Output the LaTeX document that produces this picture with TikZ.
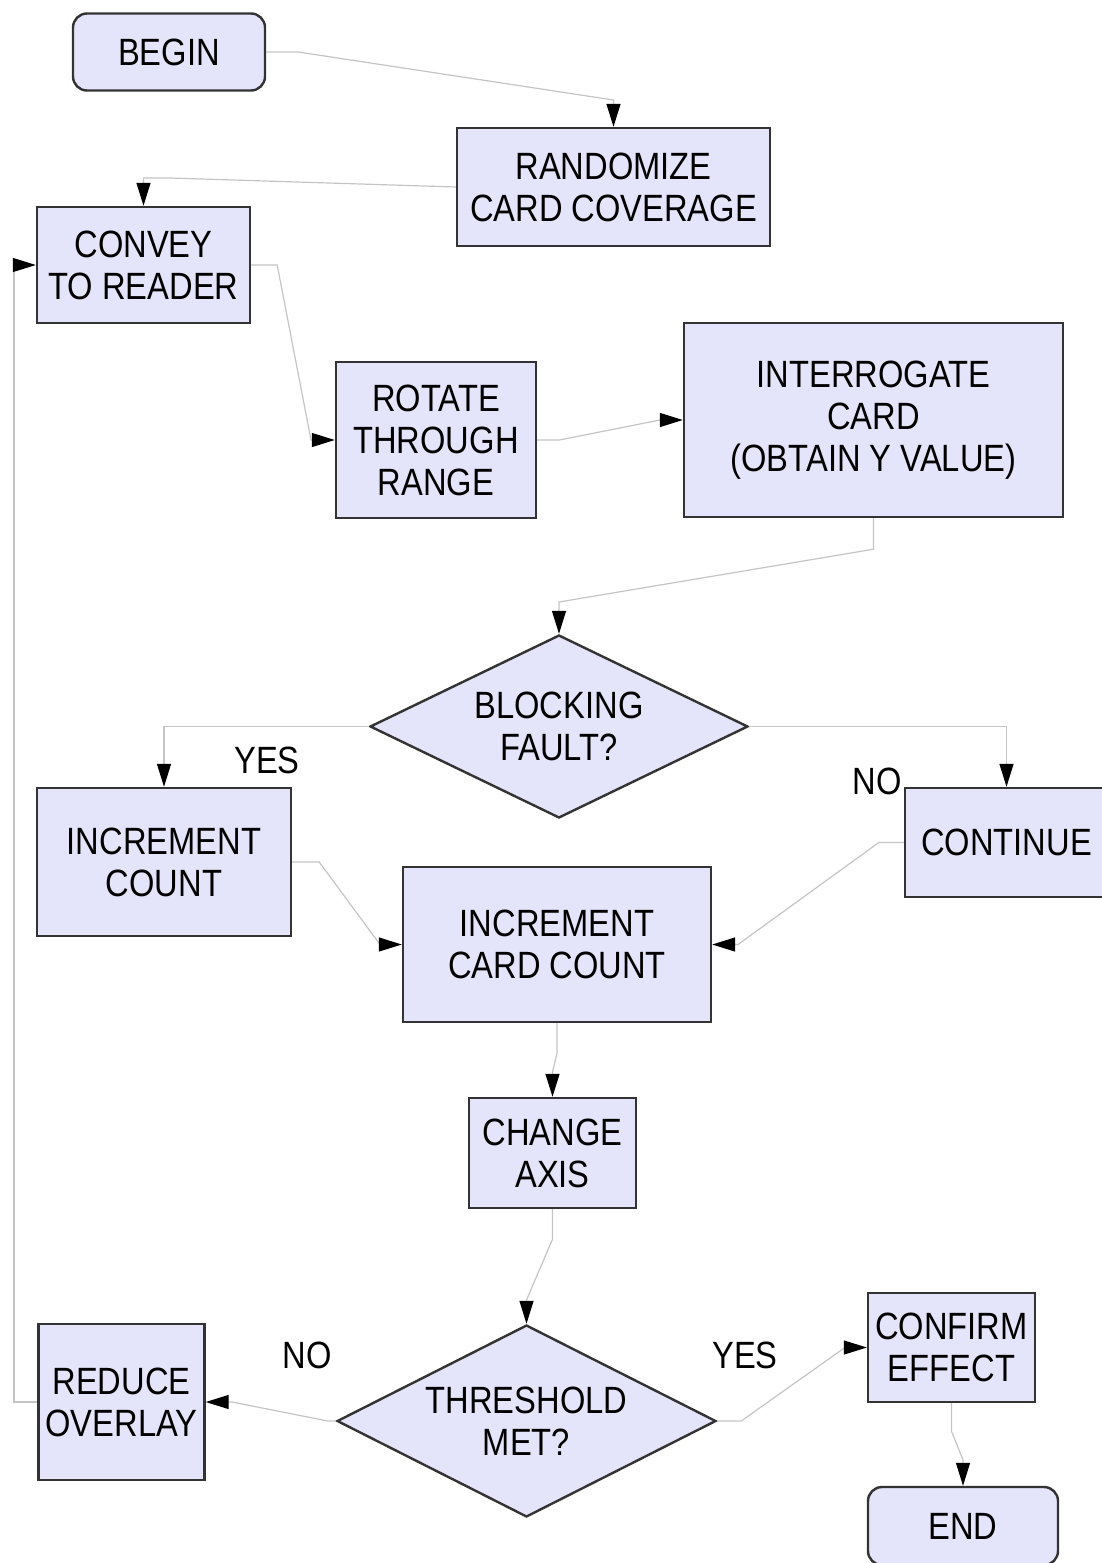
\documentclass[tikz,border=0pt]{standalone}
\usepackage{fontspec}
\setmainfont{Liberation Sans}[FakeStretch=0.86]
\usetikzlibrary{arrows.meta,shapes.geometric}
\definecolor{FlowFill}{HTML}{E4E4FA}
\definecolor{FlowEdge}{HTML}{333333}
\definecolor{FlowLink}{HTML}{C4C4C4}

\begin{document}
\begin{tikzpicture}[x=0.5pt, y=-0.5pt,
  box/.style={draw=FlowEdge, fill=FlowFill, line width=1.2pt, inner sep=0pt,
    align=center, font=\fontsize{19}{21}\selectfont},
  term/.style={box, rounded corners=7pt},
  test/.style={box, diamond, aspect=2},
  link/.style={draw=FlowLink, line width=0.6pt,
    -{Triangle[length=11.5pt, width=7pt, color=black]}},
  tag/.style={font=\fontsize{19}{21}\selectfont}]
  \useasboundingbox (0,0) rectangle (1102,1563);

  % steps
  \node[term, minimum width=96pt, minimum height=38.5pt] (begin) at (169,52) {BEGIN};
  \node[box, minimum width=156.5pt, minimum height=59pt] (rand) at (613.5,187) {RANDOMIZE\\CARD COVERAGE};
  \node[box, minimum width=106.5pt, minimum height=58pt] (convey) at (143.5,265) {CONVEY\\TO READER};
  \node[box, minimum width=100pt, minimum height=78pt] (rotate) at (436,440) {ROTATE\\THROUGH\\RANGE};
  \node[box, minimum width=189.5pt, minimum height=97pt] (interr) at (873.5,420) {INTERROGATE\\CARD\\(OBTAIN Y VALUE)};
  \node[test, minimum width=189pt, minimum height=91.5pt] (fault) at (559,726.5) {BLOCKING\\FAULT?};
  \node[box, minimum width=127pt, minimum height=74pt] (inccount) at (164,862) {INCREMENT\\COUNT};
  \node[box, minimum width=101.5pt, minimum height=54.5pt] (cont) at (1006.5,842.5) {CONTINUE};
  \node[box, minimum width=154pt, minimum height=77.5pt] (cardcount) at (557,944.5) {INCREMENT\\CARD COUNT};
  \node[box, minimum width=83.5pt, minimum height=55pt] (axis) at (552.5,1153) {CHANGE\\AXIS};
  \node[test, minimum width=189.5pt, minimum height=96pt] (thresh) at (526.5,1421) {THRESHOLD\\MET?};
  \node[box, minimum width=83pt, minimum height=78pt] (reduce) at (121.5,1402) {REDUCE\\OVERLAY};
  \node[box, minimum width=83.5pt, minimum height=54.5pt] (confirm) at (951.5,1347.5) {CONFIRM\\EFFECT};
  \node[term, minimum width=95pt, minimum height=39pt] (end) at (963,1526) {END};

  % branch labels
  \node[tag] (yesfault) at (267,760) {YES};
  \node[tag] (nofault) at (877,781) {NO};
  \node[tag] (nothresh) at (307,1355) {NO};
  \node[tag] (yesthresh) at (745,1355) {YES};

  % connectors
  \draw[link] (begin.east) -- ++(32,0) -- (613.5,100) -- (rand.north);
  \draw[link] (rand.west) -- (170,178) -- (143.5,178) -- (convey.north);
  \draw[link] (convey.east) -- ++(26,0) -- (311,440) -- (rotate.west);
  \draw[link] (rotate.east) -- ++(22,0) -- (660,420) -- (interr.west);
  \draw[link] (interr.south) -- ++(0,31) -- (559,602) -- (fault.north);
  \draw[link] (fault.west) -- (164,726.5) -- (inccount.north);
  \draw[link] (fault.east) -- (1006.5,726.5) -- (cont.north);
  \draw[link] (inccount.east) -- ++(27,0) -- (380,944.5) -- (cardcount.west);
  \draw[link] (cont.west) -- ++(-25,0) -- (738,944.5) -- (cardcount.east);
  \draw[link] (cardcount.south) -- ++(0,30) -- (552.5,1072) -- (axis.north);
  \draw[link] (axis.south) -- ++(0,30) -- (526.5,1300) -- (thresh.north);
  \draw[link] (thresh.west) -- ++(-8,0) -- (232,1402) -- (reduce.east);
  \draw[link] (thresh.east) -- ++(24,0) -- (845,1347.5) -- (confirm.west);
  \draw[link] (confirm.south) -- ++(0,28) -- (963,1460) -- (end.north);
  \draw[link] (reduce.west) -- (14,1402) -- (14,265) -- (convey.west);
\end{tikzpicture}
\end{document}
